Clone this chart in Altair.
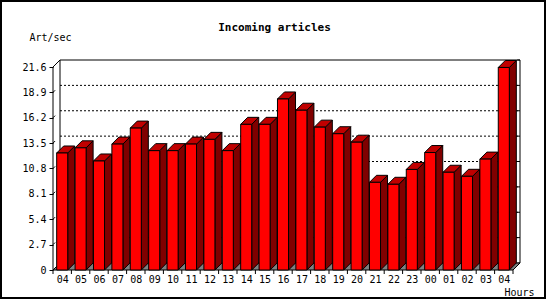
import altair as alt
import pandas as pd

# ---- data ----
hours = ["04", "05", "06", "07", "08", "09", "10", "11", "12", "13", "14", "15", "16",
         "17", "18", "19", "20", "21", "22", "23", "00", "01", "02", "03", "04"]
values = [12.45, 13.0, 11.6, 13.4, 15.1, 12.7, 12.7, 13.4, 13.9, 12.7, 15.5, 15.5, 18.2,
          17.0, 15.2, 14.5, 13.6, 9.33, 9.12, 10.7, 12.5, 10.4, 9.97, 11.8, 21.55]
y_ticks = [0, 2.7, 5.4, 8.1, 10.8, 13.5, 16.2, 18.9, 21.6]

# ---- geometry / style ----
FONT = "DejaVu Sans Mono"
N = len(hours)
YMAX = 21.6
UNIT_X = 18.4          # px per category
PX_Y = 203 / YMAX      # px per y unit
DEPTH = 7              # 3D depth in px
dx = DEPTH / UNIT_X
dy = DEPTH / PX_Y
W = round((N + dx) * UNIT_X)
H = round((YMAX + dy) * PX_Y)
FRONT_L, FRONT_R = 0.2, 0.8

xs = alt.Scale(domain=[0, N + dx], nice=False, zero=False)
ys = alt.Scale(domain=[0, YMAX + dy], nice=False, zero=False)

label_js = "[" + ",".join("'%s'" % h for h in hours) + "]"

XAXIS = alt.Axis(
    values=[i + 0.5 for i in range(N)],
    labelExpr=label_js + "[floor(datum.value)]",
    ticks=False, domain=False, grid=False, labelOverlap=False, labelFlush=False,
    labelFont=FONT, labelFontSize=10, labelColor="black", labelPadding=4,
    title="Hours", titleFont=FONT, titleFontSize=10, titleFontWeight="normal",
    titleColor="black", titleX=466, titleY=22, titleAlign="center",
    titleBaseline="middle")
YAXIS = alt.Axis(
    values=y_ticks,
    labelExpr="datum.value == 0 ? '0' : format(datum.value, '.1f')",
    tickSize=4, tickColor="black", domain=False, grid=False,
    labelFont=FONT, labelFontSize=10, labelColor="black", labelPadding=3,
    title="Art/sec", titleFont=FONT, titleFontSize=10, titleFontWeight="normal",
    titleColor="black", titleAngle=0, titleX=-3, titleY=-23, titleAlign="center",
    titleBaseline="middle")

bars = pd.DataFrame({"idx": range(N), "hour": hours, "value": values})
bars["L"] = bars["idx"] + FRONT_L
bars["R"] = bars["idx"] + FRONT_R
bars["zero"] = 0.0

side_rows, top_rows = [], []
for i, v in enumerate(values):
    L, R = i + FRONT_L, i + FRONT_R
    side_rows += [{"idx": i, "x": R, "top": v, "bot": 0.0},
                  {"idx": i, "x": R + dx, "top": v + dy, "bot": dy}]
    top_rows += [{"idx": i, "y": v, "x1": L, "x2": R},
                 {"idx": i, "y": v + dy, "x1": L + dx, "x2": R + dx}]
side = pd.DataFrame(side_rows)
topf = pd.DataFrame(top_rows)

floor = pd.DataFrame([{"y": 0.0, "x1": 0.0, "x2": float(N)},
                      {"y": dy, "x1": dx, "x2": N + dx}])

segs = [
    (0, 0, 0, YMAX),
    (0, YMAX, dx, YMAX + dy),
    (dx, dy, dx, YMAX + dy),
    (dx, YMAX + dy, N + dx, YMAX + dy),
    (N + dx, dy, N + dx, YMAX + dy),
]
for t in y_ticks[:-1]:
    segs.append((0, t, dx * 0.3, t + dy * 0.3))
for t in y_ticks:
    segs.append((N + dx - 0.15, t + dy, N + dx, t + dy))
frame = pd.DataFrame(segs, columns=["xa", "ya", "xb", "yb"])

grid = pd.DataFrame({"y": [t + dy for t in y_ticks[1:-1]], "xa": dx, "xb": N + dx})
xt = pd.DataFrame({"x": [float(i) for i in range(N + 1)]})

# ---- layers ----
border = alt.Chart(xt).mark_rect(fill=None, stroke="black", strokeWidth=1.5).encode(
    x=alt.value(-52), x2=alt.value(492), y=alt.value(-59), y2=alt.value(238)
)

floor_l = alt.Chart(floor).mark_area(orient="horizontal", fill="#808080", stroke="black",
                                     strokeWidth=1).encode(
    y=alt.Y("y:Q", scale=ys, axis=YAXIS),
    x=alt.X("x1:Q", scale=xs, axis=XAXIS),
    x2="x2:Q",
)

grid_l = alt.Chart(grid).mark_rule(color="black", strokeWidth=1, strokeDash=[2, 2]).encode(
    y=alt.Y("y:Q", scale=ys, axis=YAXIS),
    x=alt.X("xa:Q", scale=xs, axis=XAXIS),
    x2="xb:Q",
)

frame_l = alt.Chart(frame).mark_rule(color="black", strokeWidth=1).encode(
    x=alt.X("xa:Q", scale=xs, axis=XAXIS),
    y=alt.Y("ya:Q", scale=ys, axis=YAXIS),
    x2="xb:Q",
    y2="yb:Q",
)

xtick_l = alt.Chart(xt).mark_rule(color="black", strokeWidth=1).encode(
    x=alt.X("x:Q", scale=xs, axis=XAXIS),
    y=alt.value(H),
    y2=alt.value(H + 4),
)

side_l = alt.Chart(side).mark_area(orient="vertical", fill="#800000", stroke="black",
                                   strokeWidth=1).encode(
    x=alt.X("x:Q", scale=xs, axis=XAXIS),
    y=alt.Y("top:Q", scale=ys, axis=YAXIS),
    y2="bot:Q",
    detail="idx:N",
)

top_l = alt.Chart(topf).mark_area(orient="horizontal", fill="#C00000", stroke="black",
                                  strokeWidth=1).encode(
    y=alt.Y("y:Q", scale=ys, axis=YAXIS),
    x=alt.X("x1:Q", scale=xs, axis=XAXIS),
    x2="x2:Q",
    detail="idx:N",
)

front_l = alt.Chart(bars).mark_rect(fill="#FF0000", stroke="black", strokeWidth=1).encode(
    x=alt.X("L:Q", scale=xs, axis=XAXIS),
    x2="R:Q",
    y=alt.Y("value:Q", scale=ys, axis=YAXIS),
    y2="zero:Q",
    tooltip=["hour:N", "value:Q"],
)

chart = alt.layer(
    border, grid_l, frame_l, floor_l, xtick_l, side_l, top_l, front_l
).properties(
    width=W,
    height=H,
    title=alt.TitleParams("Incoming articles", font=FONT, fontSize=11, fontWeight="bold",
                          color="black", anchor="middle", frame="group", dx=-12,
                          baseline="alphabetic", offset=-42),
    autosize=alt.AutoSizeParams(type="none"),
    padding={"left": 53, "top": 60, "right": 30, "bottom": 30},
    background="white",
).configure_view(stroke=None)

chart.save("out.html", embed_options={"renderer": "svg", "actions": False})
